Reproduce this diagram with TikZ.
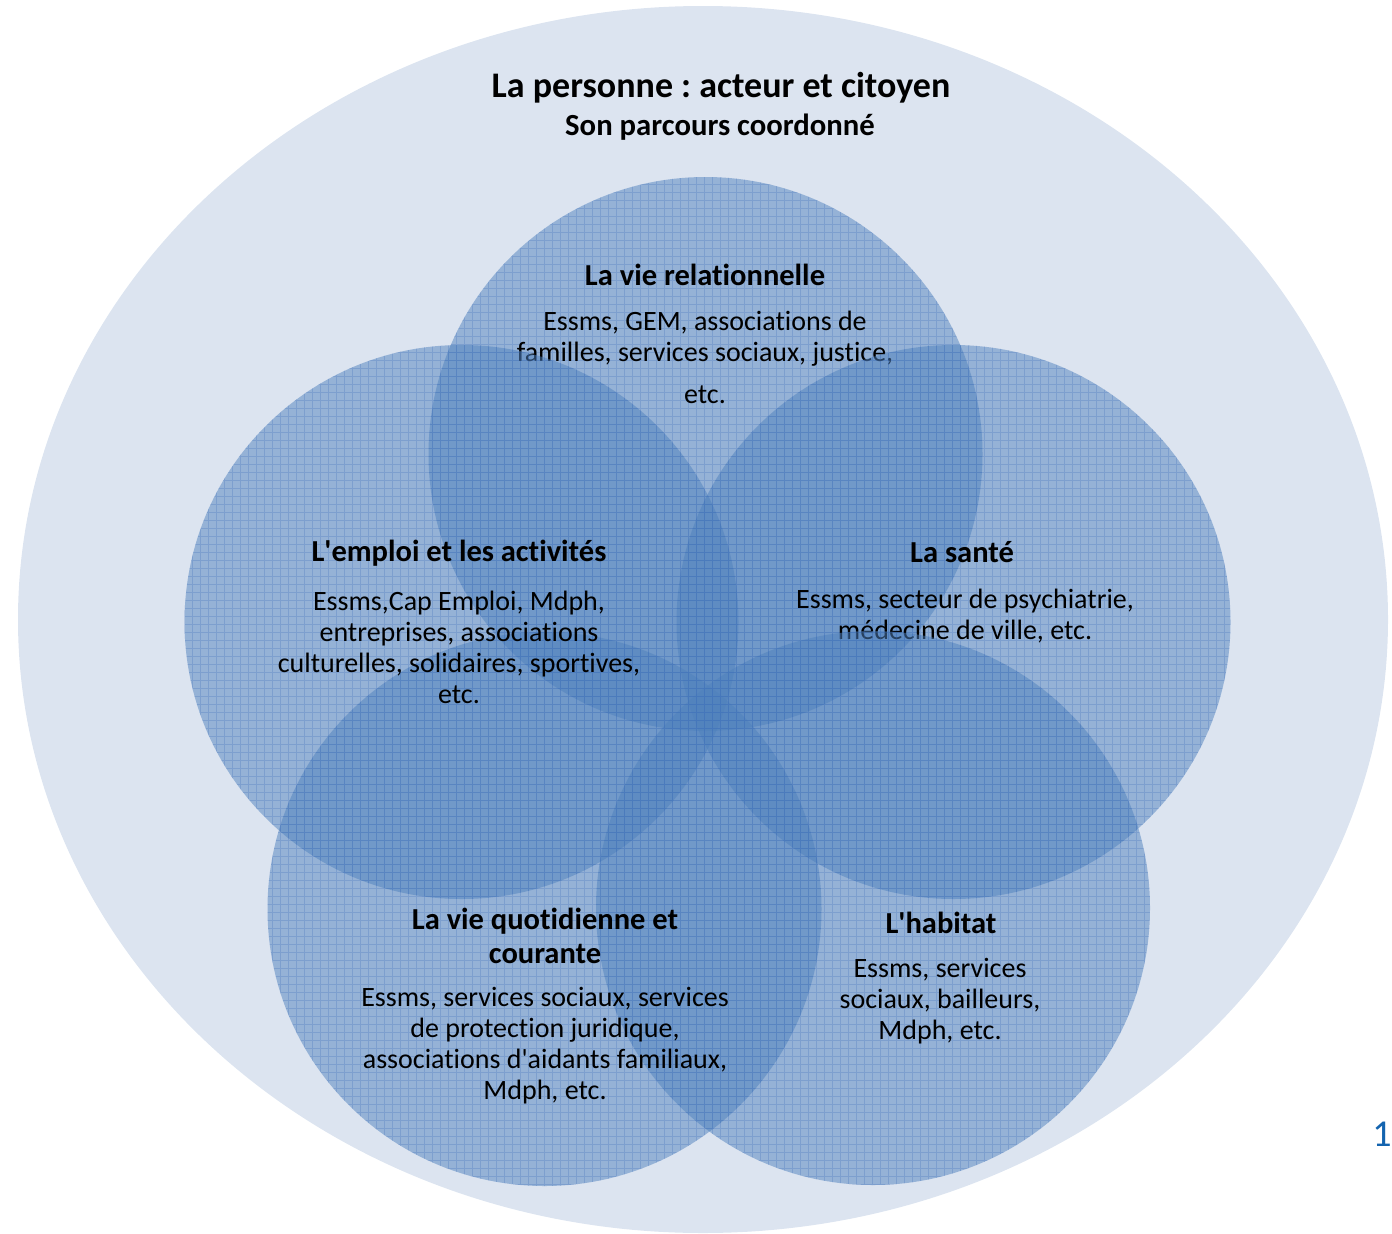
\documentclass[tikz,border=0pt]{standalone}
\usepackage{fontspec}
\setmainfont{Carlito}[Ligatures={NoCommon}]
\frenchspacing
\definecolor{bgell}{RGB}{220,228,240}
\definecolor{circ}{RGB}{79,129,189}
\definecolor{gridc}{RGB}{55,105,185}
\definecolor{numc}{RGB}{20,100,175}
\tikzset{
  vcirc/.style={fill=circ, fill opacity=0.5, draw=none},
  gridlines/.style={draw=gridc, opacity=0.25, line width=0.6pt},
  ttl/.style={font=\bfseries\fontsize{30.5}{34}\selectfont, align=center, inner sep=0pt},
  body/.style={font=\fontsize{28}{31}\selectfont, align=center, inner sep=0pt},
}
\newcommand\venncircle[3]{%
  \coordinate (#1) at (#2,#3);
  \fill[vcirc] (#1) circle (277pt);
  \begin{scope}
    \clip (#1) circle (277pt);
    \draw[gridlines, step=8pt] (0,0) grid (1392,1234);
  \end{scope}}
\newcommand\apos{\textquotesingle}
\begin{document}
\begin{tikzpicture}[x=1pt,y=-1pt]
\useasboundingbox (0,0) rectangle (1392,1234);
\fill[bgell] (703,619.5) ellipse (685pt and 613.5pt);
\node[font=\bfseries\fontsize{36}{40}\selectfont, inner sep=0pt] (title) at (721,88) {La personne : acteur et citoyen};
\node[font=\bfseries\fontsize{30.7}{34}\selectfont, inner sep=0pt] (subtitle) at (720,127) {Son parcours coordonné};
% relationnelle
\venncircle{c1}{705.5}{454}
\node[ttl] (t1) at (705,275) {La vie relationnelle};
\node[body] (b1) at (705,357) {Essms, GEM, associations de\\familles, services sociaux, justice,\\[11pt]etc.};
% emploi, sante, quotidienne
\venncircle{c2}{461.5}{622}
\venncircle{c3}{953.5}{622}
\venncircle{c4}{544.5}{909}
\node[ttl] (t2) at (459,553) {L\apos emploi et les activités};
\node[body] (b2) at (459,647) {Essms,Cap Emploi, Mdph,\\entreprises, associations\\culturelles, solidaires, sportives,\\etc.};
\node[ttl] (t3) at (962,552) {La santé};
\node[body] (b3) at (965,616) {Essms, secteur de psychiatrie,\\médecine de ville, etc.};
% habitat
\venncircle{c5}{873}{908}
\node[ttl] (t4) at (545,936) {La vie quotidienne et\\courante};
\node[body] (b4) at (545,1046) {Essms, services sociaux, services\\de protection juridique,\\associations d\apos aidants familiaux,\\Mdph, etc.};
\node[ttl] (t5) at (941,923) {L\apos habitat};
\node[body] (b5) at (940,1001) {Essms, services\\sociaux, bailleurs,\\Mdph, etc.};
\node[font=\fontsize{38}{42}\selectfont, text=numc, inner sep=0pt] (pagenum) at (1382,1134) {1};
\end{tikzpicture}
\end{document}
